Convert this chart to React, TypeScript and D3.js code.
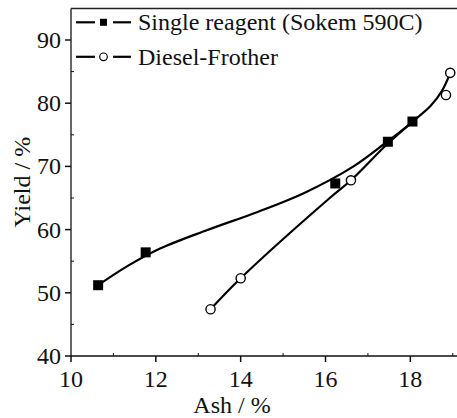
import { useMemo } from "react";
import * as d3 from "d3";

// measured points
const singleX = [10.64, 11.76, 16.23, 17.47, 18.05];
const singleY = [51.2, 56.4, 67.3, 73.9, 77.1];
const dieselX = [13.29, 14.0, 16.6, 18.84, 18.94];
const dieselY = [47.4, 52.3, 67.8, 81.3, 84.8];

// fitted curves
const singleFitX = [10.64, 11.3, 12.1, 13.2, 14.4, 15.5, 16.66, 17.45, 18.07];
const singleFitY = [51.2, 54.1, 57.0, 59.9, 62.8, 65.8, 70.0, 73.9, 77.1];
const dieselFitX = [13.29, 14.0, 16.1, 16.6, 17.45, 18.07, 18.47, 18.75, 18.94];
const dieselFitY = [47.4, 52.3, 65.0, 67.8, 73.5, 77.2, 79.5, 82.0, 84.8];

const xTicks = [10, 12, 14, 16, 18];
const xMinor = [11, 13, 15, 17, 19];
const yTicks = [40, 50, 60, 70, 80, 90];
const yMinor = [45, 55, 65, 75, 85];

const legendLabels = ["Single reagent (Sokem 590C)", "Diesel-Frother"];

const W = 457;
const H = 418;
const font = "'Liberation Serif', 'Times New Roman', serif";

export default function App() {
  const x = useMemo(() => d3.scaleLinear().domain([10, 19.1]).range([71, 457]), []);
  const y = useMemo(() => d3.scaleLinear().domain([40, 95]).range([356, 8.4]), []);

  const line = d3
    .line<[number, number]>()
    .x((d) => x(d[0]))
    .y((d) => y(d[1]))
    .curve(d3.curveCatmullRom.alpha(0.5));

  const singleFit = singleFitX.map((v, i) => [v, singleFitY[i]] as [number, number]);
  const dieselFit = dieselFitX.map((v, i) => [v, dieselFitY[i]] as [number, number]);

  const x0 = x.range()[0];
  const y0 = y.range()[0];
  const yTop = y.range()[1];

  return (
    <svg
      width={W}
      height={H}
      style={{ position: "absolute", left: 0, top: 0, background: "#fff" }}
      fontFamily={font}
    >
      <rect x={0} y={0} width={W} height={H} fill="#fff" />

      {/* frame */}
      <line x1={x0} x2={W} y1={yTop} y2={yTop} stroke="#222" strokeWidth={1.5} />
      <line x1={x0} x2={x0} y1={yTop} y2={y0} stroke="#333" strokeWidth={1.5} />
      <line x1={x0} x2={W} y1={y0} y2={y0} stroke="#111" strokeWidth={1.5} />

      {/* x ticks */}
      {xTicks.map((t) => (
        <g key={"xt" + t}>
          <line x1={x(t)} x2={x(t)} y1={y0} y2={y0 + 6} stroke="#111" strokeWidth={1.5} />
          <text x={x(t)} y={387} fontSize={24} textAnchor="middle" fill="#111">
            {t}
          </text>
        </g>
      ))}
      {xMinor.map((t) => (
        <line key={"xm" + t} x1={x(t)} x2={x(t)} y1={y0} y2={y0 - 3} stroke="#111" strokeWidth={1} />
      ))}

      {/* y ticks */}
      {yTicks.map((t) => (
        <g key={"yt" + t}>
          <line x1={x0 - 6} x2={x0} y1={y(t)} y2={y(t)} stroke="#111" strokeWidth={1.5} />
          <text x={61} y={y(t) + 8} fontSize={24} textAnchor="end" fill="#111">
            {t}
          </text>
        </g>
      ))}
      {yMinor.map((t) => (
        <line key={"ym" + t} x1={x0} x2={x0 + 3} y1={y(t)} y2={y(t)} stroke="#111" strokeWidth={1} />
      ))}

      {/* axis titles */}
      <text x={232} y={413} fontSize={24} textAnchor="middle" fill="#111">
        Ash / %
      </text>
      <text
        transform={`translate(30,${(y0 + yTop) / 2}) rotate(-90)`}
        fontSize={24}
        textAnchor="middle"
        fill="#111"
      >
        Yield / %
      </text>

      {/* fitted curves */}
      <path d={line(singleFit) ?? ""} fill="none" stroke="#000" strokeWidth={2.2} />
      <path d={line(dieselFit) ?? ""} fill="none" stroke="#000" strokeWidth={2.2} />

      {/* markers */}
      {singleX.map((v, i) => (
        <rect key={"s" + i} x={x(v) - 5} y={y(singleY[i]) - 5} width={10} height={10} fill="#000" />
      ))}
      {dieselX.map((v, i) => (
        <circle key={"d" + i} cx={x(v)} cy={y(dieselY[i])} r={4.6} fill="#fff" stroke="#000" strokeWidth={1.4} />
      ))}

      {/* legend */}
      {legendLabels.map((lab, i) => {
        const cy = 22.3 + i * 34.5;
        return (
          <g key={lab}>
            <line x1={76} x2={95} y1={cy} y2={cy} stroke="#000" strokeWidth={2.2} />
            <line x1={113} x2={131} y1={cy} y2={cy} stroke="#000" strokeWidth={2.2} />
            {i === 0 ? (
              <rect x={100} y={cy - 3.5} width={7} height={7} fill="#000" />
            ) : (
              <circle cx={103.5} cy={cy} r={3.8} fill="#fff" stroke="#000" strokeWidth={1.2} />
            )}
            <text x={138} y={cy + 8} fontSize={24} fill="#111">
              {lab}
            </text>
          </g>
        );
      })}
    </svg>
  );
}
